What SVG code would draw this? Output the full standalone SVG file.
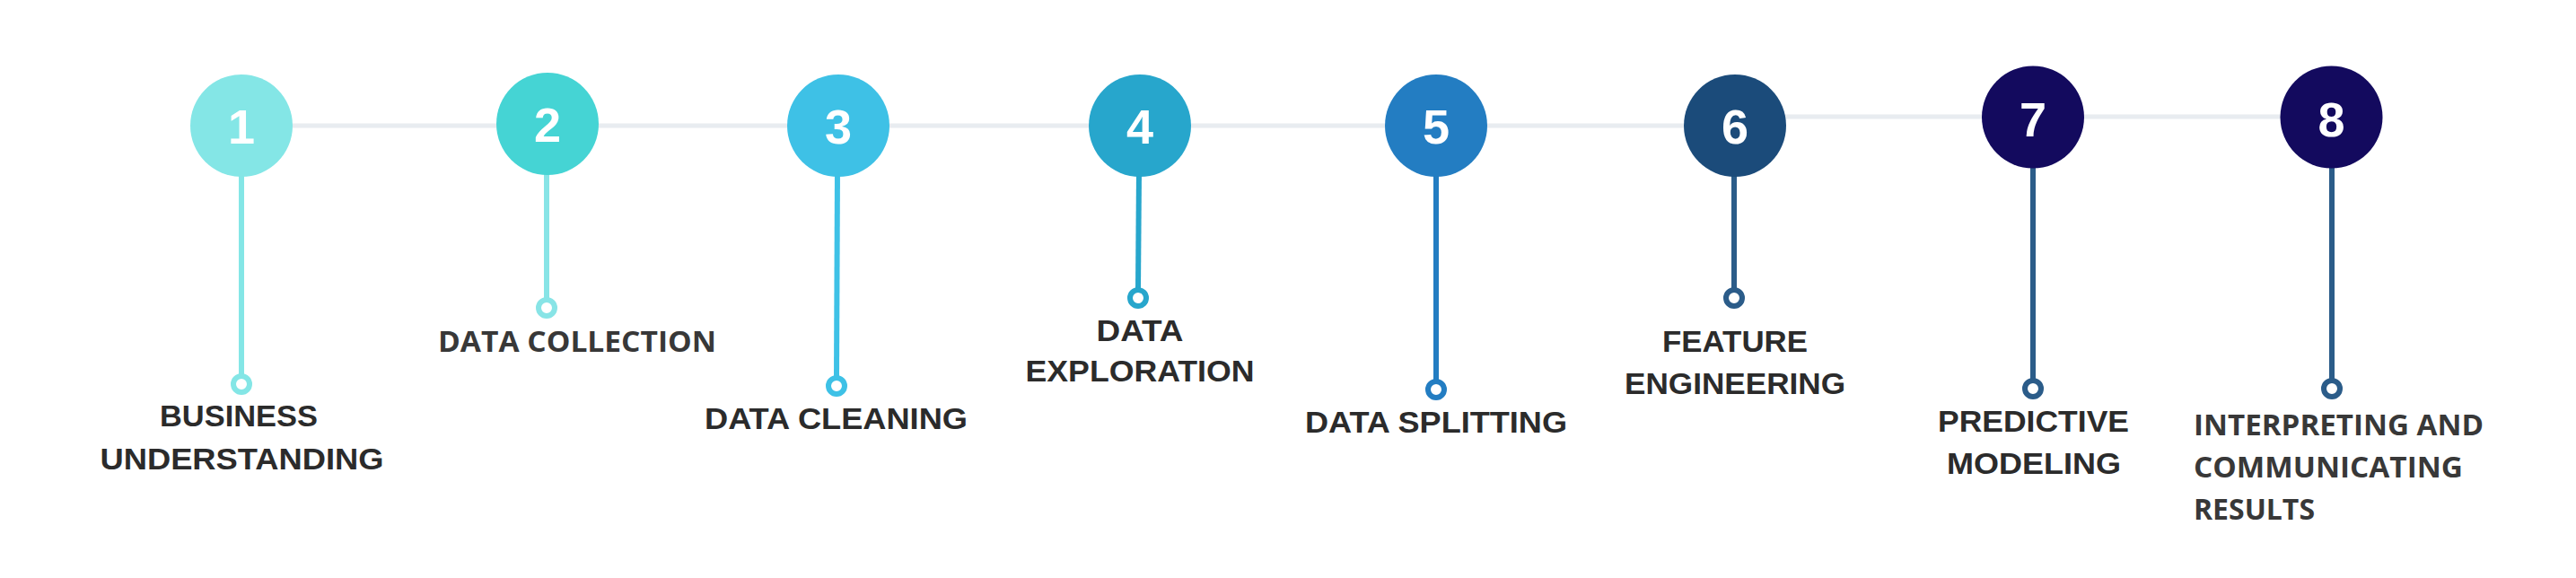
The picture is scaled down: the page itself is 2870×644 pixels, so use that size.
<svg xmlns="http://www.w3.org/2000/svg" width="2870" height="644" viewBox="0 0 2870 644">
<style>
.bg{fill:#ffffff}
.track{stroke:#e8ecf0;stroke-width:5;fill:none}
.stem{stroke-width:6;fill:none}
.dot{fill:#ffffff;stroke-width:6}
.num{font-family:"Liberation Sans",Arial,sans-serif;font-weight:bold;font-size:54px;fill:#ffffff;text-anchor:middle}
.lbl{font-family:"Liberation Sans",Arial,sans-serif;font-weight:bold;font-size:33px;fill:#2b2b2b}
.lbl2{font-family:"Open Sans","Liberation Sans",sans-serif;font-weight:bold;font-size:33px;fill:#383838}
</style>
<rect class="bg" x="0" y="0" width="2870" height="644"/>
<g id="connectors">
<line class="track" x1="300" y1="140" x2="1933" y2="140"/>
<line class="track" x1="1960" y1="130" x2="2597" y2="130"/>
<line class="stem" x1="269" y1="190" x2="269" y2="419" stroke="#84e6e6"/>
<line class="stem" x1="609" y1="190" x2="609" y2="334" stroke="#88e4e6"/>
<line class="stem" x1="933" y1="190" x2="932" y2="421" stroke="#3ec1e6"/>
<line class="stem" x1="1269" y1="190" x2="1268" y2="323" stroke="#27a6cc"/>
<line class="stem" x1="1600" y1="190" x2="1600" y2="425" stroke="#237dc2"/>
<line class="stem" x1="1932" y1="190" x2="1932" y2="323" stroke="#2b5c89"/>
<line class="stem" x1="2265" y1="180" x2="2265" y2="424" stroke="#2b5c89"/>
<line class="stem" x1="2598" y1="180" x2="2598" y2="424" stroke="#2b5c89"/>
</g>
<g id="node1">
<circle cx="269" cy="140" r="57" fill="#84e6e6"/>
<text class="num" x="269" y="160">1</text>
<circle class="dot" cx="269" cy="428" r="9" stroke="#84e6e6"/>
<text class="lbl" x="178" y="475" textLength="176" lengthAdjust="spacingAndGlyphs">BUSINESS</text>
<text class="lbl" x="111.5" y="523" textLength="316" lengthAdjust="spacingAndGlyphs">UNDERSTANDING</text>
</g>
<g id="node2">
<circle cx="610" cy="138" r="57" fill="#45d4d4"/>
<text class="num" x="610" y="158">2</text>
<circle class="dot" cx="609" cy="343" r="9" stroke="#88e4e6"/>
<text class="lbl2" x="488" y="392" textLength="310" lengthAdjust="spacingAndGlyphs">DATA COLLECTION</text>
</g>
<g id="node3">
<circle cx="934" cy="140" r="57" fill="#3ec1e6"/>
<text class="num" x="934" y="160">3</text>
<circle class="dot" cx="932" cy="430" r="9" stroke="#3ec1e6"/>
<text class="lbl" x="785" y="478" textLength="293" lengthAdjust="spacingAndGlyphs">DATA CLEANING</text>
</g>
<g id="node4">
<circle cx="1270" cy="140" r="57" fill="#27a6cc"/>
<text class="num" x="1270" y="160">4</text>
<circle class="dot" cx="1268" cy="332" r="9" stroke="#27a6cc"/>
<text class="lbl" x="1221.5" y="380" textLength="97" lengthAdjust="spacingAndGlyphs">DATA</text>
<text class="lbl" x="1142.5" y="425" textLength="255" lengthAdjust="spacingAndGlyphs">EXPLORATION</text>
</g>
<g id="node5">
<circle cx="1600" cy="140" r="57" fill="#237dc2"/>
<text class="num" x="1600" y="160">5</text>
<circle class="dot" cx="1600" cy="434" r="9" stroke="#237dc2"/>
<text class="lbl" x="1454" y="481.5" textLength="292" lengthAdjust="spacingAndGlyphs">DATA SPLITTING</text>
</g>
<g id="node6">
<circle cx="1933" cy="140" r="57" fill="#1b4b7a"/>
<text class="num" x="1933" y="160">6</text>
<circle class="dot" cx="1932" cy="332" r="9" stroke="#2b5c89"/>
<text class="lbl" x="1852" y="392" textLength="162" lengthAdjust="spacingAndGlyphs">FEATURE</text>
<text class="lbl" x="1810" y="439" textLength="246" lengthAdjust="spacingAndGlyphs">ENGINEERING</text>
</g>
<g id="node7">
<circle cx="2265" cy="130.5" r="57" fill="#130a5e"/>
<text class="num" x="2265" y="151.5">7</text>
<circle class="dot" cx="2265" cy="433" r="9" stroke="#2b5c89"/>
<text class="lbl" x="2159" y="481" textLength="213" lengthAdjust="spacingAndGlyphs">PREDICTIVE</text>
<text class="lbl" x="2169" y="528" textLength="194" lengthAdjust="spacingAndGlyphs">MODELING</text>
</g>
<g id="node8">
<circle cx="2597.5" cy="130.5" r="57" fill="#130a5e"/>
<text class="num" x="2597.5" y="151.5">8</text>
<circle class="dot" cx="2598" cy="433" r="9" stroke="#2b5c89"/>
<text class="lbl2" x="2444" y="485" textLength="323" lengthAdjust="spacingAndGlyphs">INTERPRETING AND</text>
<text class="lbl2" x="2444" y="532" textLength="300" lengthAdjust="spacingAndGlyphs">COMMUNICATING</text>
<text class="lbl2" x="2444" y="578.5" textLength="135" lengthAdjust="spacingAndGlyphs">RESULTS</text>
</g>
</svg>
